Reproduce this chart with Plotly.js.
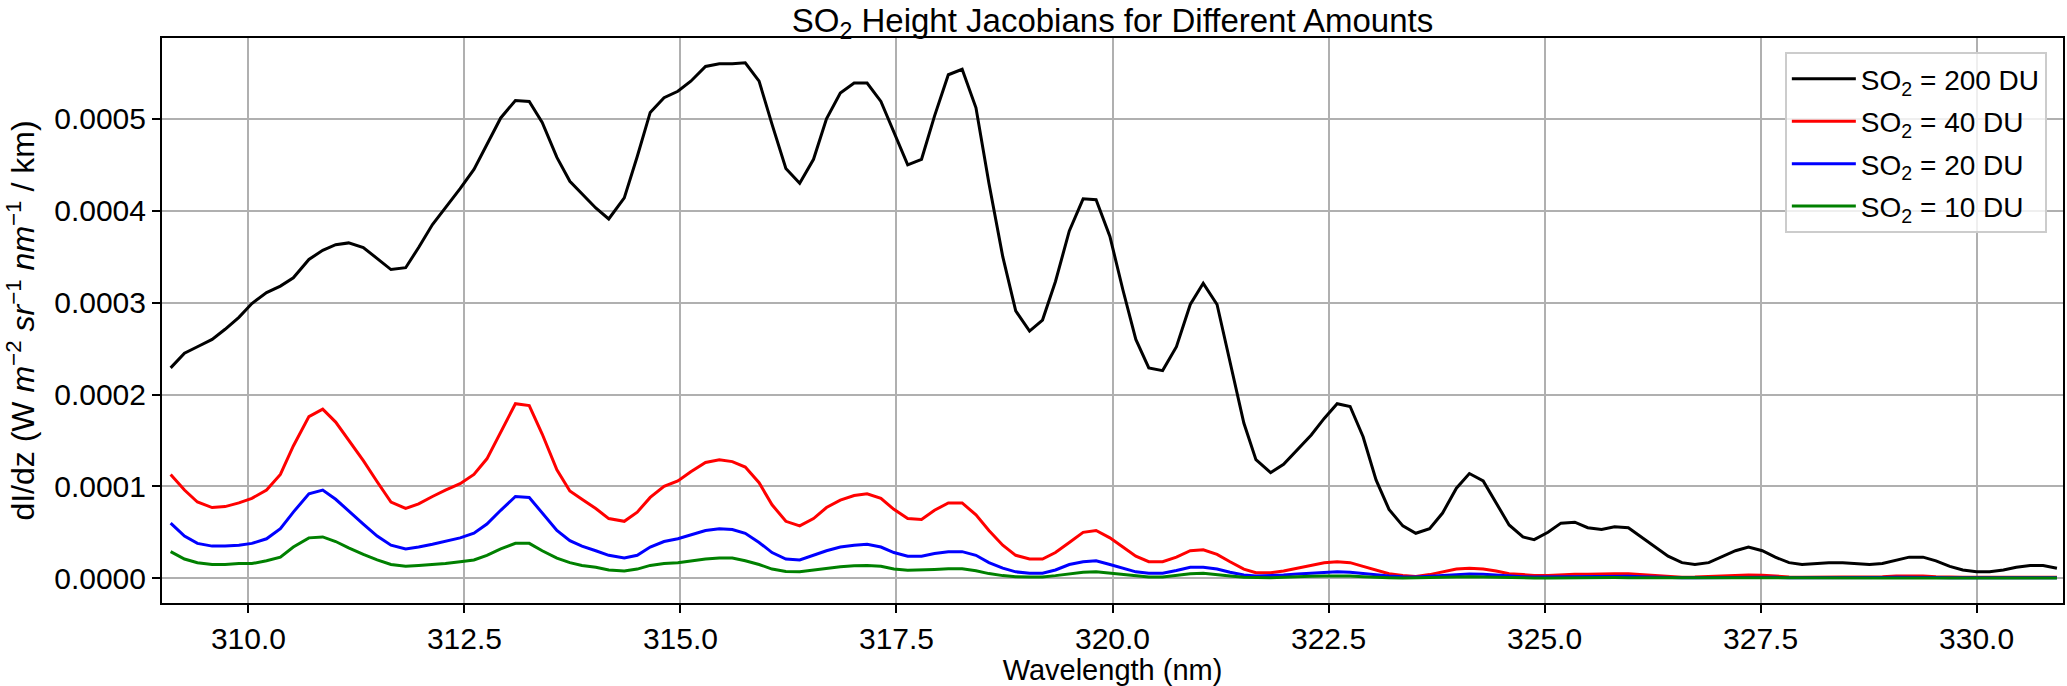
<!DOCTYPE html>
<html>
<head>
<meta charset="utf-8">
<script src="https://cdn.plot.ly/plotly-3.0.1.min.js"></script>
<style>
  html, body { margin: 0; padding: 0; background: #fff; }
  #chart1 { width: 2067px; height: 686px; }
</style>
</head>
<body>
<div id="chart1"></div>
<script>
var wavelength = [
  309.10, 309.26, 309.41, 309.58, 309.73, 309.89, 310.04, 310.21, 310.37, 310.52,
  310.70, 310.86, 311.01, 311.16, 311.33, 311.49, 311.65, 311.82, 311.97, 312.13,
  312.28, 312.45, 312.61, 312.76, 312.92, 313.09, 313.25, 313.40, 313.57, 313.72,
  313.86, 314.02, 314.17, 314.35, 314.50, 314.65, 314.81, 314.97, 315.12, 315.29,
  315.45, 315.60, 315.75, 315.91, 316.06, 316.22, 316.38, 316.54, 316.69, 316.85,
  317.01, 317.16, 317.32, 317.47, 317.63, 317.79, 317.94, 318.10, 318.26, 318.42,
  318.57, 318.73, 318.88, 319.04, 319.19, 319.34, 319.50, 319.66, 319.81, 319.97,
  320.12, 320.27, 320.42, 320.58, 320.74, 320.90, 321.05, 321.21, 321.36, 321.52,
  321.66, 321.83, 321.98, 322.14, 322.30, 322.45, 322.60, 322.75, 322.90, 323.05,
  323.20, 323.36, 323.51, 323.67, 323.82, 323.98, 324.13, 324.29, 324.44, 324.59,
  324.75, 324.88, 325.04, 325.19, 325.35, 325.50, 325.66, 325.81, 325.97, 326.12,
  326.28, 326.43, 326.59, 326.74, 326.90, 327.05, 327.21, 327.36, 327.52, 327.67,
  327.83, 327.98, 328.14, 328.29, 328.45, 328.60, 328.76, 328.91, 329.07, 329.22,
  329.38, 329.53, 329.69, 329.84, 330.00, 330.15, 330.31, 330.46, 330.62, 330.77,
  330.93
];

// dI/dz values in units of 1e-4 W m-2 sr-1 nm-1 / km
var so2_200 = [
  2.29, 2.45, 2.52, 2.60, 2.71, 2.84, 2.99, 3.11, 3.18, 3.27,
  3.47, 3.57, 3.63, 3.65, 3.60, 3.48, 3.36, 3.38, 3.60, 3.85,
  4.03, 4.24, 4.45, 4.72, 5.01, 5.20, 5.19, 4.96, 4.58, 4.32,
  4.18, 4.03, 3.91, 4.14, 4.59, 5.07, 5.23, 5.30, 5.41, 5.57,
  5.60, 5.60, 5.61, 5.41, 4.94, 4.46, 4.30, 4.56, 5.00, 5.28,
  5.39, 5.39, 5.19, 4.85, 4.50, 4.56, 5.03, 5.48, 5.54, 5.12,
  4.30, 3.50, 2.91, 2.69, 2.81, 3.23, 3.78, 4.13, 4.12, 3.72,
  3.14, 2.60, 2.29, 2.26, 2.52, 2.98, 3.21, 2.98, 2.34, 1.69,
  1.29, 1.15, 1.24, 1.40, 1.56, 1.74, 1.90, 1.87, 1.54, 1.07,
  0.75, 0.57, 0.49, 0.54, 0.71, 0.98, 1.14, 1.06, 0.82, 0.58,
  0.45, 0.42, 0.50, 0.60, 0.61, 0.55, 0.53, 0.56, 0.55, 0.45,
  0.34, 0.24, 0.17, 0.15, 0.17, 0.23, 0.30, 0.34, 0.30, 0.23,
  0.17, 0.15, 0.16, 0.17, 0.17, 0.16, 0.15, 0.16, 0.20, 0.23,
  0.23, 0.19, 0.13, 0.09, 0.07, 0.07, 0.09, 0.12, 0.14, 0.14,
  0.11
];
var so2_40 = [
  1.13, 0.96, 0.83, 0.77, 0.78, 0.82, 0.87, 0.96, 1.13, 1.44,
  1.76, 1.84, 1.70, 1.50, 1.28, 1.05, 0.83, 0.76, 0.81, 0.89,
  0.96, 1.03, 1.13, 1.30, 1.59, 1.90, 1.88, 1.57, 1.18, 0.95,
  0.86, 0.76, 0.65, 0.62, 0.72, 0.88, 1.00, 1.06, 1.16, 1.26,
  1.29, 1.27, 1.21, 1.04, 0.80, 0.62, 0.57, 0.65, 0.77, 0.85,
  0.90, 0.92, 0.87, 0.75, 0.65, 0.64, 0.74, 0.82, 0.82, 0.69,
  0.52, 0.36, 0.25, 0.21, 0.21, 0.28, 0.39, 0.50, 0.52, 0.44,
  0.34, 0.24, 0.18, 0.18, 0.23, 0.30, 0.31, 0.26, 0.18, 0.10,
  0.06, 0.06, 0.08, 0.11, 0.14, 0.17, 0.18, 0.17, 0.13, 0.09,
  0.05, 0.03, 0.02, 0.04, 0.07, 0.10, 0.11, 0.10, 0.08, 0.05,
  0.04, 0.03, 0.03, 0.04, 0.045, 0.045, 0.05, 0.05, 0.05, 0.04,
  0.025, 0.015, 0.012, 0.013, 0.018, 0.025, 0.032, 0.035, 0.032, 0.022,
  0.015, 0.012, 0.012, 0.012, 0.012, 0.012, 0.014, 0.018, 0.025, 0.028,
  0.025, 0.018, 0.012, 0.010, 0.010, 0.010, 0.010, 0.012, 0.014, 0.014,
  0.012
];
var so2_20 = [
  0.60, 0.46, 0.38, 0.35, 0.35, 0.36, 0.38, 0.43, 0.54, 0.72,
  0.92, 0.96, 0.86, 0.73, 0.59, 0.46, 0.36, 0.32, 0.34, 0.37,
  0.40, 0.44, 0.49, 0.59, 0.74, 0.89, 0.88, 0.71, 0.52, 0.41,
  0.35, 0.30, 0.25, 0.22, 0.25, 0.34, 0.40, 0.43, 0.47, 0.52,
  0.54, 0.53, 0.49, 0.39, 0.28, 0.21, 0.20, 0.25, 0.30, 0.34,
  0.36, 0.37, 0.34, 0.28, 0.24, 0.24, 0.27, 0.29, 0.29, 0.25,
  0.17, 0.11, 0.07, 0.055, 0.055, 0.09, 0.15, 0.18, 0.19, 0.15,
  0.11, 0.07, 0.055, 0.055, 0.085, 0.12, 0.12, 0.10, 0.065, 0.036,
  0.025, 0.028, 0.036, 0.047, 0.057, 0.068, 0.072, 0.065, 0.050, 0.036,
  0.025, 0.017, 0.014, 0.021, 0.032, 0.043, 0.047, 0.043, 0.032, 0.021,
  0.017, 0.014, 0.015, 0.020, 0.022, 0.022, 0.022, 0.024, 0.022, 0.018,
  0.012, 0.008, 0.007, 0.007, 0.008, 0.011, 0.014, 0.016, 0.014, 0.010,
  0.007, 0.006, 0.006, 0.006, 0.006, 0.006, 0.006, 0.008, 0.011, 0.012,
  0.011, 0.008, 0.005, 0.005, 0.005, 0.005, 0.005, 0.005, 0.005, 0.005,
  0.005
];
var so2_10 = [
  0.29, 0.21, 0.17, 0.15, 0.15, 0.16, 0.16, 0.19, 0.23, 0.34,
  0.44, 0.45, 0.40, 0.33, 0.26, 0.20, 0.15, 0.13, 0.14, 0.15,
  0.16, 0.18, 0.20, 0.25, 0.32, 0.38, 0.38, 0.30, 0.22, 0.17,
  0.14, 0.12, 0.09, 0.08, 0.10, 0.14, 0.16, 0.17, 0.19, 0.21,
  0.22, 0.22, 0.19, 0.15, 0.10, 0.074, 0.070, 0.088, 0.11, 0.125,
  0.136, 0.14, 0.13, 0.10, 0.088, 0.088, 0.096, 0.103, 0.103, 0.081,
  0.051, 0.029, 0.018, 0.015, 0.015, 0.029, 0.051, 0.066, 0.070, 0.055,
  0.037, 0.022, 0.015, 0.015, 0.030, 0.050, 0.054, 0.043, 0.025, 0.010,
  0.007, 0.007, 0.010, 0.018, 0.021, 0.025, 0.028, 0.025, 0.018, 0.010,
  0.007, 0.003, 0.003, 0.007, 0.010, 0.014, 0.018, 0.014, 0.010, 0.007,
  0.003, 0.003, 0.004, 0.006, 0.007, 0.007, 0.007, 0.008, 0.007, 0.006,
  0.004, 0.003, 0.003, 0.003, 0.003, 0.004, 0.005, 0.005, 0.005, 0.004,
  0.003, 0.003, 0.003, 0.003, 0.003, 0.003, 0.003, 0.003, 0.004, 0.004,
  0.004, 0.003, 0.003, 0.003, 0.003, 0.003, 0.003, 0.003, 0.003, 0.003,
  0.003
];

var seriesNames = ["SO<sub>2</sub> = 200 DU", "SO<sub>2</sub> = 40 DU", "SO<sub>2</sub> = 20 DU", "SO<sub>2</sub> = 10 DU"];
var seriesColors = ["#000000", "#ff0000", "#0000ff", "#008000"];
var seriesValues = [so2_200, so2_40, so2_20, so2_10];
var UNIT = 1e-4;

var chartData = [];
for (var s = 0; s < seriesValues.length; s++) {
    chartData.push({
        x: wavelength,
        y: seriesValues[s].map(function(v) { return v * UNIT; }),
        name: seriesNames[s],
        legendgroup: "g" + s,
        mode: "lines",
        line: {color: seriesColors[s], width: 3}
    });
}

var FONT = "Liberation Sans, Arial, sans-serif";

var axisStyle = {
    showgrid: true,
    gridcolor: "#b0b0b0",
    gridwidth: 2,
    showline: true,
    mirror: true,
    linecolor: "#000000",
    linewidth: 2,
    ticks: "outside",
    ticklen: 8,
    tickwidth: 2,
    tickcolor: "#000000",
    tickfont: {family: FONT, size: 30, color: "#000000"},
    zeroline: false
};

var chartLayout = {
    width: 2067,
    height: 686,
    margin: {l: 162, r: 4, t: 38, b: 83},
    paper_bgcolor: "#ffffff",
    plot_bgcolor: "#ffffff",
    font: {family: FONT, size: 30, color: "#000000"},
    title: {
        text: "SO<sub>2</sub> Height Jacobians for Different Amounts",
        font: {family: FONT, size: 33, color: "#000000"},
        x: 0.5, xref: "paper", xanchor: "center",
        y: 1, yref: "paper", yanchor: "bottom",
        pad: {b: 6}
    },
    xaxis: Object.assign({}, axisStyle, {
        range: [309, 331],
        tick0: 310,
        dtick: 2.5,
        tickformat: ".1f",
        title: {text: "Wavelength (nm)", standoff: 6, font: {family: FONT, size: 29, color: "#000000"}}
    }),
    yaxis: Object.assign({}, axisStyle, {
        range: [-0.0000269, 0.000588],
        tick0: 0,
        dtick: 0.0001,
        tickformat: ".4f",
        title: {
            text: "dI/dz (W <i>m</i><sup>\u22122</sup> <i>sr</i><sup>\u22121</sup> <i>nm</i><sup>\u22121</sup> / km)",
            standoff: 10,
            font: {family: FONT, size: 32, color: "#000000"}
        }
    }),
    showlegend: true,
    legend: {
        x: 0.9915, y: 0.975,
        xanchor: "right", yanchor: "top",
        bgcolor: "rgba(255,255,255,0.8)",
        bordercolor: "#cccccc",
        borderwidth: 2,
        itemwidth: 64,
        tracegroupgap: 3,
        traceorder: "grouped",
        font: {family: FONT, size: 28, color: "#000000"}
    }
};

var chartConfig = {
    displaylogo: false,
    displayModeBar: false,
    staticPlot: true
};

Plotly.newPlot("chart1", chartData, chartLayout, chartConfig);
</script>
</body>
</html>
